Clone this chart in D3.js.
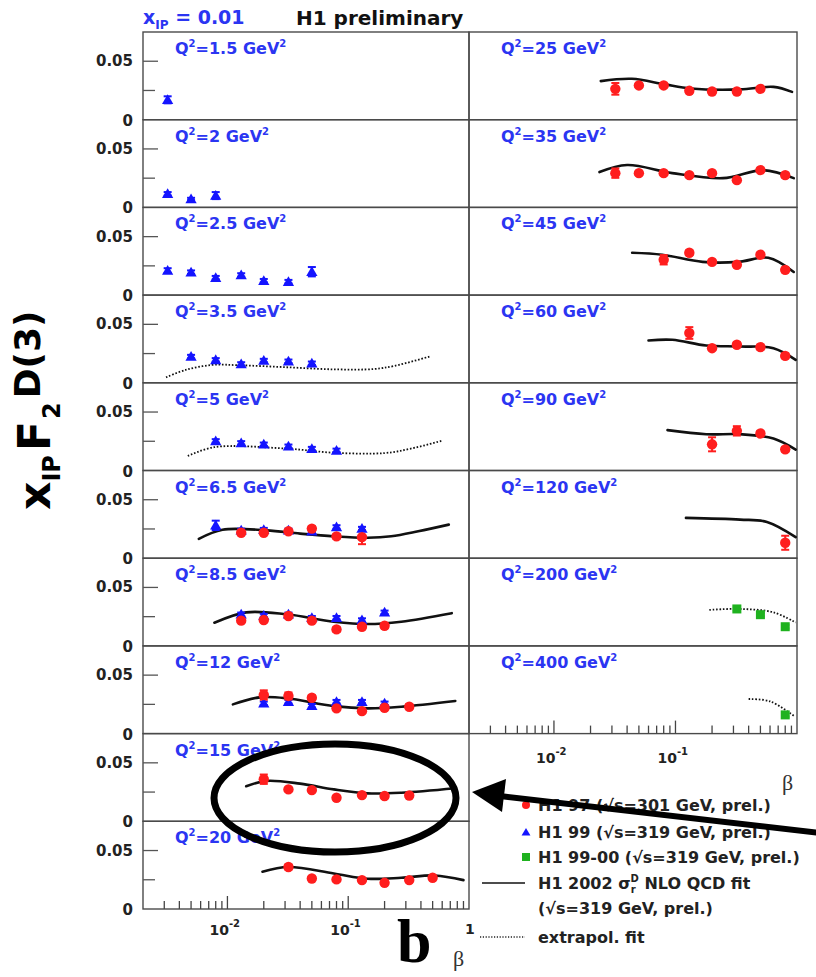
<!DOCTYPE html>
<html>
<head>
<meta charset="utf-8">
<script src="https://cdn.jsdelivr.net/npm/d3@7"></script>
<style>
body { margin: 0; background: #fff; }
svg { display: block; }
</style>
</head>
<body>
<svg id="chart" width="816" height="977"></svg>
<script>
// ---- data ----
const q2Left = [1.5, 2, 2.5, 3.5, 5, 6.5, 8.5, 12, 15, 20];
const q2Right = [25, 35, 45, 60, 90, 120, 200, 400];
const yTicks = [0.025, 0.05];

// [Q2, beta, xIP*F2D3, error]
const h1_97 = [
    [6.5, 0.013, 0.0218, 0.0015], [6.5, 0.02, 0.0218, 0.0015], [6.5, 0.032, 0.023, 0.0015], [6.5, 0.05, 0.0253, 0.002], [6.5, 0.08, 0.0187, 0.002], [6.5, 0.13, 0.018, 0.006],
    [8.5, 0.013, 0.0216, 0.0015], [8.5, 0.02, 0.0221, 0.0015], [8.5, 0.032, 0.0256, 0.0015], [8.5, 0.05, 0.0216, 0.0015], [8.5, 0.08, 0.0141, 0.002], [8.5, 0.13, 0.0164, 0.002], [8.5, 0.2, 0.0172, 0.002],
    [12, 0.02, 0.033, 0.004], [12, 0.032, 0.0322, 0.003], [12, 0.05, 0.0307, 0.002], [12, 0.08, 0.0216, 0.0015], [12, 0.13, 0.0192, 0.0015], [12, 0.2, 0.0221, 0.0015], [12, 0.32, 0.023, 0.002],
    [15, 0.02, 0.036, 0.004], [15, 0.032, 0.0273, 0.0015], [15, 0.05, 0.0267, 0.0015], [15, 0.08, 0.0201, 0.0015], [15, 0.13, 0.0224, 0.0015], [15, 0.2, 0.0216, 0.0015], [15, 0.32, 0.0221, 0.0015],
    [20, 0.032, 0.0359, 0.002], [20, 0.05, 0.0261, 0.0015], [20, 0.08, 0.0253, 0.0015], [20, 0.13, 0.0247, 0.0015], [20, 0.2, 0.0224, 0.0015], [20, 0.32, 0.0247, 0.0015], [20, 0.5, 0.0267, 0.0015],
    [25, 0.032, 0.0264, 0.005], [25, 0.05, 0.0293, 0.0015], [25, 0.08, 0.0293, 0.0015], [25, 0.13, 0.0247, 0.0015], [25, 0.2, 0.0241, 0.0015], [25, 0.32, 0.0241, 0.0015], [25, 0.5, 0.0264, 0.0015],
    [35, 0.032, 0.0293, 0.004], [35, 0.05, 0.0293, 0.0015], [35, 0.08, 0.0293, 0.0015], [35, 0.13, 0.0276, 0.0015], [35, 0.2, 0.0293, 0.0015], [35, 0.32, 0.0233, 0.0015], [35, 0.5, 0.0319, 0.0015], [35, 0.8, 0.0276, 0.002],
    [45, 0.08, 0.0302, 0.004], [45, 0.13, 0.0362, 0.002], [45, 0.2, 0.0284, 0.0015], [45, 0.32, 0.0259, 0.0015], [45, 0.5, 0.0345, 0.0015], [45, 0.8, 0.0216, 0.002],
    [60, 0.13, 0.0426, 0.005], [60, 0.2, 0.0296, 0.0015], [60, 0.32, 0.0325, 0.002], [60, 0.5, 0.0305, 0.002], [60, 0.8, 0.023, 0.002],
    [90, 0.2, 0.0224, 0.006], [90, 0.32, 0.0339, 0.004], [90, 0.5, 0.0316, 0.002], [90, 0.8, 0.0181, 0.002],
    [120, 0.8, 0.0132, 0.006]
];

const h1_99 = [
    [1.5, 0.0032, 0.017, 0.003],
    [2, 0.0032, 0.0116, 0.0015], [2, 0.005, 0.0072, 0.001], [2, 0.008, 0.0101, 0.003],
    [2.5, 0.0032, 0.021, 0.002], [2.5, 0.005, 0.0196, 0.0015], [2.5, 0.008, 0.0149, 0.0015], [2.5, 0.013, 0.0172, 0.0015], [2.5, 0.02, 0.0123, 0.0015], [2.5, 0.032, 0.0115, 0.0015], [2.5, 0.05, 0.020, 0.004],
    [3.5, 0.005, 0.0224, 0.0015], [3.5, 0.008, 0.0196, 0.0015], [3.5, 0.013, 0.0161, 0.0015], [3.5, 0.02, 0.019, 0.0015], [3.5, 0.032, 0.0184, 0.0015], [3.5, 0.05, 0.0167, 0.0015],
    [5, 0.008, 0.0253, 0.0015], [5, 0.013, 0.0236, 0.0015], [5, 0.02, 0.0224, 0.0015], [5, 0.032, 0.0207, 0.0015], [5, 0.05, 0.0187, 0.0015], [5, 0.08, 0.0172, 0.0015],
    [6.5, 0.008, 0.0281, 0.004], [6.5, 0.013, 0.0238, 0.0015], [6.5, 0.02, 0.0244, 0.0015], [6.5, 0.032, 0.0238, 0.0015], [6.5, 0.05, 0.023, 0.0015], [6.5, 0.08, 0.0267, 0.0015], [6.5, 0.13, 0.0253, 0.0015],
    [8.5, 0.013, 0.027, 0.0015], [8.5, 0.02, 0.0259, 0.0015], [8.5, 0.032, 0.027, 0.0015], [8.5, 0.05, 0.0241, 0.0015], [8.5, 0.08, 0.0241, 0.0015], [8.5, 0.13, 0.0221, 0.0015], [8.5, 0.2, 0.0287, 0.0015],
    [12, 0.02, 0.0259, 0.0015], [12, 0.032, 0.0273, 0.0015], [12, 0.05, 0.0238, 0.0015], [12, 0.08, 0.0273, 0.0015], [12, 0.13, 0.0273, 0.0015], [12, 0.2, 0.0259, 0.0015]
];

const h1_9900 = [
    [200, 0.32, 0.0316, 0.0015], [200, 0.5, 0.0267, 0.0015], [200, 0.8, 0.0164, 0.0015],
    [400, 0.8, 0.016, 0.0015]
];

// [Q2, beta, value] - NLO QCD fit (solid)
const qcdFit = [
    [6.5, 0.0058, 0.0166], [6.5, 0.0091, 0.0244], [6.5, 0.021, 0.0238], [6.5, 0.04, 0.021], [6.5, 0.076, 0.0187], [6.5, 0.145, 0.0175], [6.5, 0.227, 0.0187], [6.5, 0.38, 0.023], [6.5, 0.68, 0.0287],
    [8.5, 0.0078, 0.0198], [8.5, 0.0143, 0.0287], [8.5, 0.031, 0.027], [8.5, 0.076, 0.0207], [8.5, 0.145, 0.0187], [8.5, 0.275, 0.0207], [8.5, 0.72, 0.028],
    [12, 0.0111, 0.025], [12, 0.0185, 0.031], [12, 0.031, 0.0302], [12, 0.076, 0.0235], [12, 0.145, 0.0216], [12, 0.275, 0.023], [12, 0.77, 0.0279],
    [15, 0.0143, 0.030], [15, 0.021, 0.0345], [15, 0.04, 0.0322], [15, 0.076, 0.0273], [15, 0.145, 0.0239], [15, 0.275, 0.0244], [15, 0.77, 0.0282],
    [20, 0.0195, 0.0319], [20, 0.032, 0.0359], [20, 0.076, 0.0304], [20, 0.145, 0.0259], [20, 0.275, 0.0267], [20, 0.52, 0.0287], [20, 0.9, 0.0247],
    [25, 0.0243, 0.033], [25, 0.0438, 0.035], [25, 0.0815, 0.0302], [25, 0.134, 0.0267], [25, 0.34, 0.0259], [25, 0.64, 0.0281], [25, 0.91, 0.0238],
    [35, 0.0237, 0.0302], [35, 0.04, 0.0362], [35, 0.094, 0.0293], [35, 0.246, 0.025], [35, 0.53, 0.0319], [35, 0.94, 0.025],
    [45, 0.044, 0.0362], [45, 0.078, 0.0345], [45, 0.167, 0.0284], [45, 0.33, 0.0284], [45, 0.58, 0.0319], [45, 0.94, 0.0198],
    [60, 0.06, 0.0362], [60, 0.094, 0.0368], [60, 0.179, 0.0319], [60, 0.34, 0.031], [60, 0.64, 0.0296], [60, 0.975, 0.0196],
    [90, 0.086, 0.0345], [90, 0.179, 0.031], [90, 0.34, 0.031], [90, 0.64, 0.0273], [90, 0.975, 0.0178],
    [120, 0.122, 0.0345], [120, 0.34, 0.033], [120, 0.566, 0.031], [120, 0.975, 0.018]
];

// [Q2, beta, value] - extrapolated fit (dotted)
const extrapFit = [
    [3.5, 0.0031, 0.0047], [3.5, 0.0045, 0.011], [3.5, 0.0075, 0.0153], [3.5, 0.0126, 0.015], [3.5, 0.031, 0.0133], [3.5, 0.076, 0.0115], [3.5, 0.164, 0.0118], [3.5, 0.24, 0.0144], [3.5, 0.47, 0.0224],
    [5, 0.0047, 0.0124], [5, 0.0078, 0.020], [5, 0.031, 0.0187], [5, 0.076, 0.0152], [5, 0.2, 0.0149], [5, 0.33, 0.0187], [5, 0.59, 0.0253],
    [200, 0.19, 0.0308], [200, 0.34, 0.0316], [200, 0.64, 0.0287], [200, 0.975, 0.020],
    [400, 0.40, 0.0296], [400, 0.60, 0.0276], [400, 0.94, 0.0153]
];

const legendLabels = [
    "H1 97 (\u221As=301 GeV, prel.)",
    "H1 99 (\u221As=319 GeV, prel.)",
    "H1 99-00 (\u221As=319 GeV, prel.)",
    "NLO QCD fit",
    "(\u221As=319 GeV, prel.)",
    "extrapol. fit"
];

// ---- layout ----
const svg = d3.select("#chart");
const FONT = "'DejaVu Sans', sans-serif";
const SERIF = "'Liberation Serif', 'DejaVu Serif', serif";
const blue = "#2b35f2", red = "#ff1e1e", markBlue = "#1414ff", green = "#1fb21f";
const colX = [143, 469], colW = [326, 328];
const top0 = 32, rowH = 87.7;

const xScale = col => d3.scaleLog().domain([0.002, 1]).range([colX[col], colX[col] + colW[col]]);
const yScale = row => d3.scaleLinear().domain([0, 0.075]).range([top0 + (row + 1) * rowH, top0 + row * rowH]);

// panel lookup by Q2
const panels = new Map();
q2Left.forEach((q, i) => panels.set(q, {col: 0, row: i}));
q2Right.forEach((q, i) => panels.set(q, {col: 1, row: i}));

const frameGroup = svg.append("g");
const fitGroup = svg.append("g");
const errGroup = svg.append("g");
const markGroup = svg.append("g");
const textGroup = svg.append("g");
const annoGroup = svg.append("g");

// Panel frames + labels
panels.forEach((p, q) => {
    const x = xScale(p.col), y = yScale(p.row);
    frameGroup.append("rect")
        .attr("x", x.range()[0]).attr("y", y.range()[1])
        .attr("width", x.range()[1] - x.range()[0])
        .attr("height", y.range()[0] - y.range()[1])
        .attr("fill", "none").attr("stroke", "#4a4a4a").attr("stroke-width", 1.4);

    const lab = textGroup.append("text")
        .attr("x", x.range()[0] + 32).attr("y", y.range()[1] + 22)
        .attr("font-family", FONT).attr("font-weight", "bold").attr("font-size", 16)
        .attr("fill", blue);
    lab.append("tspan").text("Q");
    lab.append("tspan").attr("font-size", 10).attr("dy", -7).text("2");
    lab.append("tspan").attr("dy", 7).text("=" + q + " GeV");
    lab.append("tspan").attr("font-size", 10).attr("dy", -7).text("2");

    // y ticks and labels only on the left column
    if (p.col === 0) {
        yTicks.forEach(t => {
            frameGroup.append("line")
                .attr("x1", colX[0]).attr("x2", colX[0] + (t === 0.05 ? 15 : 12))
                .attr("y1", y(t)).attr("y2", y(t))
                .attr("stroke", "#555").attr("stroke-width", 1.3);
        });
        textGroup.append("text").attr("x", 133).attr("y", y(0.05) + 5)
            .attr("text-anchor", "end").attr("font-family", FONT).attr("font-weight", "bold")
            .attr("font-size", 15).attr("fill", "#222").text("0.05");
        textGroup.append("text").attr("x", 133).attr("y", y(0) + 6)
            .attr("text-anchor", "end").attr("font-family", FONT).attr("font-weight", "bold")
            .attr("font-size", 15).attr("fill", "#222").text("0");
    }
});

// Bottom beta axes (left col under Q2=20, right col under Q2=400)
[[0, q2Left.length - 1], [1, q2Right.length - 1]].forEach(([col, row]) => {
    const x = xScale(col), y0 = yScale(row)(0);
    const ticks = x.ticks().filter(t => t > 0.0025 && t < 0.99);
    ticks.forEach(t => {
        const major = Math.abs(Math.log10(t) - Math.round(Math.log10(t))) < 1e-6;
        frameGroup.append("line")
            .attr("x1", x(t)).attr("x2", x(t))
            .attr("y1", y0).attr("y2", y0 - (major ? 13 : 8))
            .attr("stroke", "#444").attr("stroke-width", 1.3);
    });
    [0.01, 0.1].forEach((t, k) => {
        const tx = textGroup.append("text")
            .attr("x", x(t) - 18).attr("y", y0 + 26 + (col === 1 ? 3 : 0))
            .attr("font-family", FONT).attr("font-weight", "bold").attr("font-size", 14).attr("fill", "#222");
        tx.append("tspan").text("10");
        tx.append("tspan").attr("font-size", 10).attr("dy", -8).text(k === 0 ? "-2" : "-1");
    });
    if (col === 0) {
        textGroup.append("text").attr("x", x(1) - 4).attr("y", y0 + 25)
            .attr("font-family", FONT).attr("font-weight", "bold").attr("font-size", 14)
            .attr("fill", "#222").text("1");
    }
});

// beta axis titles
textGroup.append("text").attr("x", 782).attr("y", 790)
    .attr("font-family", SERIF).attr("font-size", 22).attr("fill", "#333").text("\u03B2");
textGroup.append("text").attr("x", 453).attr("y", 966)
    .attr("font-family", SERIF).attr("font-size", 22).attr("fill", "#333").text("\u03B2");

// Fits
const drawFits = (rows, dashed) => {
    d3.group(rows, d => d[0]).forEach((pts, q) => {
        const p = panels.get(q), x = xScale(p.col), y = yScale(p.row);
        const line = d3.line().x(d => x(d[1])).y(d => y(d[2])).curve(d3.curveCatmullRom.alpha(0.5));
        fitGroup.append("path")
            .attr("d", line(pts))
            .attr("fill", "none")
            .attr("stroke", "#111")
            .attr("stroke-width", dashed ? 1.8 : 2.6)
            .attr("stroke-dasharray", dashed ? "1.6,1.8" : null)
            .attr("stroke-linecap", dashed ? "butt" : "round");
    });
};
drawFits(qcdFit, false);
drawFits(extrapFit, true);

// Data points with error bars
const drawSeries = (rows, color, shape) => {
    rows.forEach(d => {
        const p = panels.get(d[0]), x = xScale(p.col), y = yScale(p.row);
        const cx = x(d[1]), cy = y(d[2]), y1 = y(d[2] - d[3]), y2 = y(d[2] + d[3]);
        errGroup.append("line").attr("x1", cx).attr("x2", cx).attr("y1", y1).attr("y2", y2)
            .attr("stroke", color).attr("stroke-width", 2);
        [y1, y2].forEach(yy => errGroup.append("line")
            .attr("x1", cx - 4).attr("x2", cx + 4).attr("y1", yy).attr("y2", yy)
            .attr("stroke", color).attr("stroke-width", 2));
        if (shape === "circle") {
            markGroup.append("circle").attr("cx", cx).attr("cy", cy).attr("r", 5.2).attr("fill", color);
        } else if (shape === "triangle") {
            markGroup.append("path").attr("d", d3.symbol(d3.symbolTriangle, 55)())
                .attr("transform", `translate(${cx},${cy + 1})`).attr("fill", color);
        } else {
            markGroup.append("rect").attr("x", cx - 4.5).attr("y", cy - 4.5)
                .attr("width", 9).attr("height", 9).attr("fill", color);
        }
    });
};
drawSeries(h1_99, markBlue, "triangle");
drawSeries(h1_97, red, "circle");
drawSeries(h1_9900, green, "square");

// Header
const hdr = textGroup.append("text").attr("x", 143).attr("y", 24)
    .attr("font-family", FONT).attr("font-weight", "bold").attr("font-size", 19).attr("fill", blue);
hdr.append("tspan").text("x");
hdr.append("tspan").attr("font-size", 12).attr("dy", 5).text("IP");
hdr.append("tspan").attr("dy", -5).text(" = 0.01");
textGroup.append("text").attr("x", 296).attr("y", 25)
    .attr("font-family", FONT).attr("font-weight", "bold").attr("font-size", 20)
    .attr("fill", "#111").text("H1 preliminary");

// Y title
const yt = textGroup.append("text")
    .attr("transform", "translate(50,510) rotate(-90)")
    .attr("font-family", FONT).attr("font-weight", "bold").attr("font-size", 44).attr("fill", "#000");
yt.append("tspan").text("x");
yt.append("tspan").attr("font-size", 24).attr("dy", 10).text("IP");
yt.append("tspan").attr("dy", -10).attr("dx", 4).text("F");
yt.append("tspan").attr("font-size", 24).attr("dy", 10).attr("dx", 2).text("2");
yt.append("tspan").attr("font-size", 36).attr("dy", -20).attr("dx", 4).text("D(3)");

// Legend
const legX = 526, legTx = 538, legY = [805, 832, 857, 883, 908, 937];
annoGroup.append("circle").attr("cx", legX).attr("cy", legY[0]).attr("r", 4).attr("fill", red);
annoGroup.append("path").attr("d", d3.symbol(d3.symbolTriangle, 34)())
    .attr("transform", `translate(${legX},${legY[1] + 1})`).attr("fill", markBlue);
annoGroup.append("rect").attr("x", legX - 4).attr("y", legY[2] - 4).attr("width", 8).attr("height", 8).attr("fill", green);
annoGroup.append("line").attr("x1", 482).attr("x2", 525).attr("y1", legY[3]).attr("y2", legY[3])
    .attr("stroke", "#111").attr("stroke-width", 1.6);
annoGroup.append("line").attr("x1", 480).attr("x2", 525).attr("y1", legY[5]).attr("y2", legY[5])
    .attr("stroke", "#222").attr("stroke-width", 1.4).attr("stroke-dasharray", "1.2,1.6");
legendLabels.forEach((t, i) => {
    const tx = annoGroup.append("text").attr("x", legTx).attr("y", legY[i] + 6)
        .attr("font-family", FONT).attr("font-weight", "bold").attr("font-size", 16).attr("fill", "#222");
    if (i === 3) {
        tx.append("tspan").text("H1 2002 \u03C3");
        tx.append("tspan").attr("font-size", 10).attr("dy", 4).text("r");
        tx.append("tspan").attr("font-size", 10).attr("dy", -11).attr("dx", -5).text("D");
        tx.append("tspan").attr("dy", 7).text(" " + t);
    } else {
        tx.text(t);
    }
});

// Annotation: ellipse and arrow
annoGroup.append("ellipse").attr("cx", 335).attr("cy", 798).attr("rx", 121).attr("ry", 54)
    .attr("fill", "none").attr("stroke", "#000").attr("stroke-width", 7);
annoGroup.append("line").attr("x1", 820).attr("y1", 833).attr("x2", 500).attr("y2", 796)
    .attr("stroke", "#000").attr("stroke-width", 6);
annoGroup.append("path").attr("d", "M472,792 L506,779 L502,812 Z").attr("fill", "#000");

// big "b"
annoGroup.append("text").attr("x", 397).attr("y", 962)
    .attr("font-family", SERIF).attr("font-weight", "bold").attr("font-size", 62)
    .attr("fill", "#000").text("b");
</script>
</body>
</html>
